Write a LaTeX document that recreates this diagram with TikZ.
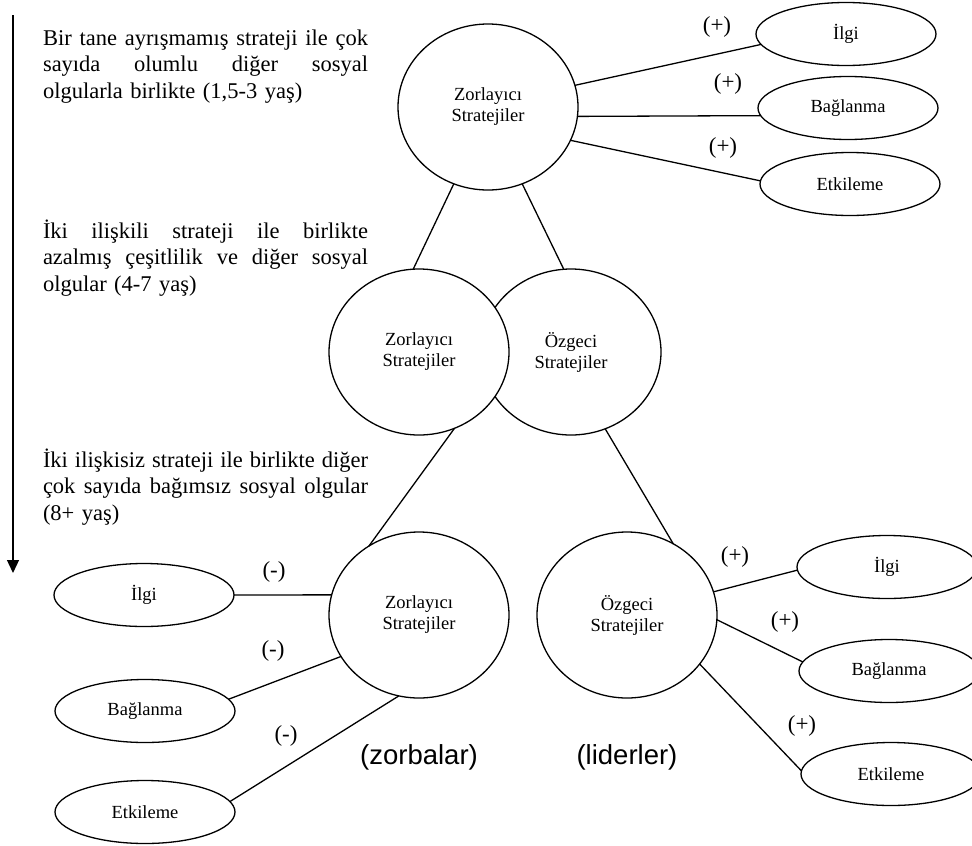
\documentclass[tikz,border=0pt]{standalone}
\usepackage{fontspec}
\setmainfont{Liberation Serif}
\newfontfamily\labsans{Liberation Sans}
\usetikzlibrary{shapes.geometric,arrows.meta}
\newcommand\jline[1]{\leavevmode\hbox to 325pt{\spaceskip=0.25em plus 1fil\relax #1}}
\begin{document}
\begin{tikzpicture}[x=1pt,y=-1pt,
  every node/.style={inner sep=0pt, outer sep=0pt},
  bigc/.style={ellipse, draw, line width=1.3pt, minimum width=180pt, minimum height=166pt, fill=white, align=center, font=\fontsize{18.5}{21}\selectfont},
  smalle/.style={ellipse, draw, line width=1.3pt, minimum width=180pt, minimum height=63pt, fill=white, font=\fontsize{18.5}{21}\selectfont},
  conn/.style={line width=1.3pt},
  sgn/.style={font=\fontsize{23}{26}\selectfont},
  grp/.style={font=\labsans\fontsize{27.5}{32}\selectfont},
  txt/.style={anchor=base west, text width=325pt, align=left, font=\fontsize{22.5}{26.5}\selectfont}
]
\useasboundingbox (0,0) rectangle (972,846);

% timeline arrow
\coordinate (arrtop) at (13,15);
\coordinate (arrbot) at (13,573);
\draw[conn, -{Triangle[width=12pt,length=13pt]}] (arrtop) -- (arrbot);

% text blocks
\node[txt] (b1) at (43,45) {\jline{Bir tane ayrışmamış strateji ile çok}\\\jline{sayıda olumlu diğer sosyal}\\olgularla birlikte (1,5-3 yaş)};
\node[txt] (b2) at (43,238) {\jline{İki ilişkili strateji ile birlikte}\\\jline{azalmış çeşitlilik ve diğer sosyal}\\olgular (4-7 yaş)};
\node[txt] (b3) at (43,467) {\jline{İki ilişkisiz strateji ile birlikte diğer}\\\jline{çok sayıda bağımsız sosyal olgular}\\(8+ yaş)};

% circles
\node[bigc] (T) at (488,107) {Zorlayıcı\\Stratejiler};
\node[bigc] (MR) at (571,352) {Özgeci\\Stratejiler};
\node[bigc] (ML) at (419,352) {Zorlayıcı\\Stratejiler};
\node[bigc] (BL) at (419,615) {Zorlayıcı\\Stratejiler};
\node[bigc] (BR) at (627,615) {Özgeci\\Stratejiler};

% small ellipses
\node[smalle] (TR1) at (846,34) {İlgi};
\node[smalle] (TR2) at (848,108) {Bağlanma};
\node[smalle] (TR3) at (850,184) {Etkileme};
\node[smalle] (BLa) at (144,595) {İlgi};
\node[smalle] (BLb) at (145,711) {Bağlanma};
\node[smalle] (BLc) at (145,812) {Etkileme};
\node[smalle] (BRa) at (887,567) {İlgi};
\node[smalle] (BRb) at (889,671) {Bağlanma};
\node[smalle] (BRc) at (891,774) {Etkileme};

% connectors
\draw[conn] (T.14.5) -- (TR1.187.3);
\draw[conn] (T.-6) -- (TR2.185.8);
\draw[conn] (T.-22) -- (TR3.178.7);
\draw[conn] (T.246.4) -- (ML.94.8);
\draw[conn] (T.-66.4) -- (MR.95.5);
\draw[conn] (ML.-65.8) -- (BL.126.6);
\draw[conn] (MR.-66.5) -- (BR.57.6);
\draw[conn] (BLa.0) -- (BL.167);
\draw[conn] (BLb.8.2) -- (BL.208.6);
\draw[conn] (BLc.7.1) -- (BL.256);
\draw[conn] (BR.15.8) -- (BRa.182.5);
\draw[conn] (BR.-3.8) -- (BRb.174.2);
\draw[conn] (BR.-34.7) -- (BRc.178.2);

% signs
\node[sgn] (s1) at (717,27) {(+)};
\node[sgn] (s2) at (728,84) {(+)};
\node[sgn] (s3) at (723,148) {(+)};
\node[sgn] (s4) at (274,572) {(-)};
\node[sgn] (s5) at (273,651) {(-)};
\node[sgn] (s6) at (286,736) {(-)};
\node[sgn] (s7) at (735,557) {(+)};
\node[sgn] (s8) at (785,622) {(+)};
\node[sgn] (s9) at (802,726) {(+)};

% group labels
\node[grp] (g1) at (419,757) {(zorbalar)};
\node[grp] (g2) at (627,757) {(liderler)};
\end{tikzpicture}
\end{document}
